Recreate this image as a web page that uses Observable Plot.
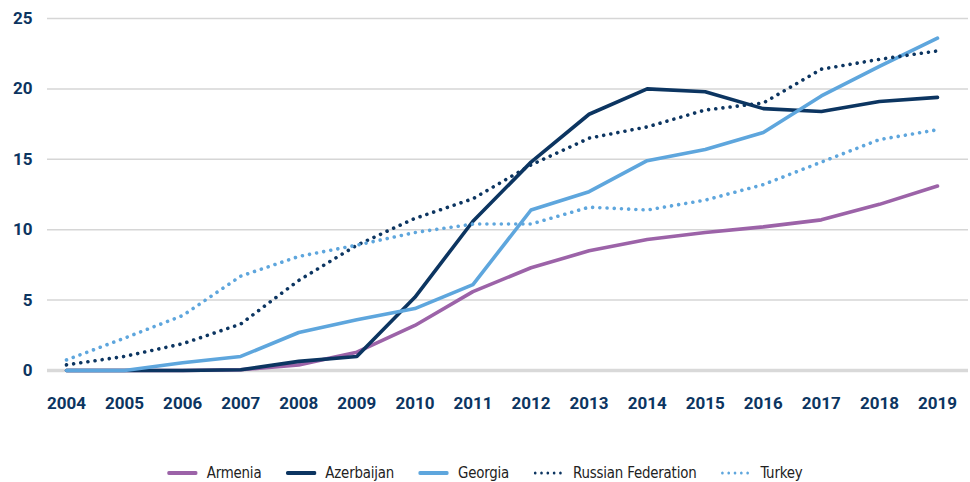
<!DOCTYPE html>
<html>
<head>
<meta charset="utf-8">
<script src="https://cdn.jsdelivr.net/npm/d3@7"></script>
<script src="https://cdn.jsdelivr.net/npm/@observablehq/plot@0.6"></script>
<style>
  html, body { margin: 0; padding: 0; background: #fff; }
  #chart svg { display: block; }
  #legend { display: flex; justify-content: center; gap: 27px; margin-top: 43px; padding-left: 0px;
    font-family: "DejaVu Sans", sans-serif; font-stretch: condensed; font-size: 16.5px; color: #222; line-height: 20px;
    transform: scaleX(0.9); transform-origin: 483px 50%; letter-spacing: -0.2px; }
  .item { display: flex; align-items: center; gap: 10px; }
</style>
</head>
<body>
<div id="chart"></div>
<div id="legend"></div>
<script>
const years = [2004,2005,2006,2007,2008,2009,2010,2011,2012,2013,2014,2015,2016,2017,2018,2019];
const armenia    = [0,0,0,0.05,0.4,1.3,3.2,5.6,7.3,8.5,9.3,9.8,10.2,10.7,11.8,13.1];
const azerbaijan = [0,0,0,0.05,0.65,1.0,5.2,10.6,14.8,18.2,20.0,19.8,18.6,18.4,19.1,19.4];
const georgia    = [0,0,0.55,1.0,2.7,3.6,4.4,6.1,11.4,12.7,14.9,15.7,16.9,19.5,21.6,23.6];
const russia     = [0.4,1.0,1.9,3.3,6.4,8.9,10.8,12.2,14.6,16.5,17.3,18.5,19.0,21.4,22.1,22.7];
const turkey     = [0.75,2.3,3.9,6.7,8.1,8.9,9.8,10.4,10.4,11.6,11.4,12.1,13.2,14.8,16.4,17.1];
const yTicks = [0,5,10,15,20,25];

const series = [
  {name: "Armenia", values: armenia, color: "#9c63a8", dotted: false},
  {name: "Azerbaijan", values: azerbaijan, color: "#0c3561", dotted: false},
  {name: "Georgia", values: georgia, color: "#5ea6dd", dotted: false},
  {name: "Russian Federation", values: russia, color: "#0c3561", dotted: true},
  {name: "Turkey", values: turkey, color: "#5ea6dd", dotted: true}
];
const rows = series.flatMap(s => years.map((y, i) => ({year: y, value: s.values[i], name: s.name})));

const marks = [
  Plot.ruleY(yTicks.filter(d => d > 0), {stroke: "#d6d6d6", strokeWidth: 1.5}),
  Plot.ruleY([0], {stroke: "#d9d9d9", strokeWidth: 3.5}),
  Plot.axisY(yTicks, {tickSize: 0, tickPadding: 15, fontSize: 17, fontWeight: "bold", fill: "#0c3561",
    fontFamily: "Roboto, sans-serif", label: null}),
  Plot.axisX(years, {tickSize: 0, tickPadding: 26, fontSize: 17, fontWeight: "bold", fill: "#0c3561",
    fontFamily: "Roboto, sans-serif", label: null, tickFormat: d => String(d)})
];
for (const s of series) {
  marks.push(Plot.line(rows.filter(r => r.name === s.name), {
    x: "year", y: "value", stroke: s.color, strokeWidth: 3.6,
    strokeLinecap: "round", strokeLinejoin: "round",
    strokeDasharray: s.dotted ? "0.01 7.2" : null, curve: "linear"
  }));
}

const chart = Plot.plot({
  width: 970, height: 420,
  marginLeft: 47, marginRight: 2, marginTop: 18, marginBottom: 50,
  x: {type: "linear", domain: [2004 - 0.327, 2019 + 0.534]},
  y: {domain: [0, 25]},
  style: {background: "#fff"},
  marks
});
document.getElementById("chart").appendChild(chart);

const legend = document.getElementById("legend");
for (const s of series) {
  const item = document.createElement("div");
  item.className = "item";
  item.innerHTML = `<svg width="34" height="8"><line x1="2" y1="4" x2="32" y2="4" stroke="${s.color}" stroke-width="${s.dotted ? 3 : 4}" stroke-linecap="round" ${s.dotted ? 'stroke-dasharray="0.01 7"' : ''}/></svg><span>${s.name}</span>`;
  legend.appendChild(item);
}
</script>
</body>
</html>
